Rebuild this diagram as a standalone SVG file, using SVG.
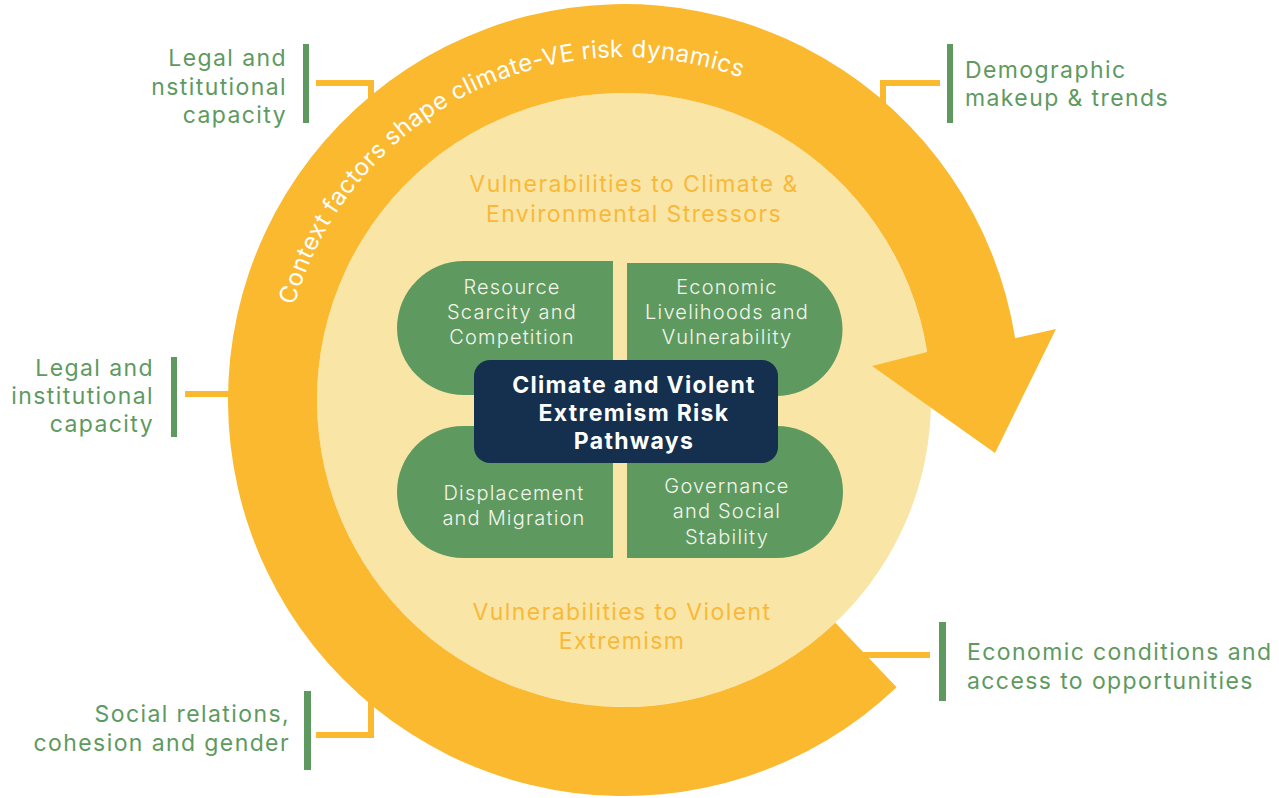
<svg xmlns="http://www.w3.org/2000/svg" width="1279" height="798" viewBox="0 0 1279 798">
<style>
  .lbl{font-family:Inter,"Open Sans","Liberation Sans",sans-serif;font-size:23px;letter-spacing:1.4px;fill:#5E9A60;}
  .bar{fill:#5E9A60;}
  .conn{fill:none;stroke:#FBB92F;stroke-width:6;}
  .head{font-family:Inter,"Open Sans","Liberation Sans",sans-serif;font-size:23px;letter-spacing:1.4px;fill:#F9B838;text-anchor:middle;}
  .pill{fill:#5E9A60;}
  .pt{font-family:Inter,"Open Sans","Liberation Sans",sans-serif;font-size:20px;font-weight:300;letter-spacing:1.2px;fill:#F4F4EC;text-anchor:middle;}
  .core{font-family:Inter,"Open Sans","Liberation Sans",sans-serif;font-size:23px;font-weight:700;letter-spacing:1.3px;fill:#FFFFFF;text-anchor:middle;}
  .ringtxt{font-family:Inter,"Open Sans","Liberation Sans",sans-serif;font-size:24px;fill:#FFFFFF;}
</style>
<defs>
  <path id="ringPath" d="M 294.3 305.5 A 343 343 0 0 1 746.9 79.8"/>
</defs>
<rect width="1279" height="798" fill="#FFFFFF"/>

<g id="connectors">
  <polyline class="conn" points="316,83 371,83 371,104"/>
  <polyline class="conn" points="940,83 883,83 883,108"/>
  <polyline class="conn" points="185,394 236,394"/>
  <polyline class="conn" points="316,735 371,735 371,700"/>
  <polyline class="conn" points="930,655 850,655"/>
</g>

<g id="inner-circle">
  <circle cx="624" cy="400" r="307" fill="#F9E6A7"/>
</g>

<g id="cycle-ring">
  <path fill="#FBB92F" d="M 835.3 622.7 L 896.6 687.3 A 396 396 0 1 1 1015.1 338.1 L 1056 329 L 995 453 L 872 366 L 927.2 352.0 A 307 307 0 1 0 835.3 622.7 Z"/>
  <text class="ringtxt"><textPath href="#ringPath" startOffset="0" textLength="93" lengthAdjust="spacing">Context</textPath></text>
  <text class="ringtxt"><textPath href="#ringPath" startOffset="100" textLength="82" lengthAdjust="spacing">factors</textPath></text>
  <text class="ringtxt"><textPath href="#ringPath" startOffset="189" textLength="71" lengthAdjust="spacing">shape</textPath></text>
  <text class="ringtxt"><textPath href="#ringPath" startOffset="267" textLength="127" lengthAdjust="spacing">climate-VE</textPath></text>
  <text class="ringtxt"><textPath href="#ringPath" startOffset="401" textLength="41" lengthAdjust="spacing">risk</textPath></text>
  <text class="ringtxt"><textPath href="#ringPath" startOffset="450" textLength="112" lengthAdjust="spacing">dynamics</textPath></text>
</g>

<g id="label-legal-top">
  <rect class="bar" x="303" y="44" width="6" height="79"/>
  <text class="lbl" text-anchor="end"><tspan x="287" y="66">Legal and</tspan><tspan x="287" y="95">nstitutional</tspan><tspan x="287" y="123">capacity</tspan></text>
</g>

<g id="label-demographic">
  <rect class="bar" x="947" y="44" width="6" height="79"/>
  <text class="lbl"><tspan x="965" y="78">Demographic</tspan><tspan x="965" y="106">makeup &amp; trends</tspan></text>
</g>

<g id="label-legal-left">
  <rect class="bar" x="171" y="357" width="6" height="80"/>
  <text class="lbl" text-anchor="end"><tspan x="154" y="376">Legal and</tspan><tspan x="154" y="404">institutional</tspan><tspan x="154" y="432">capacity</tspan></text>
</g>

<g id="label-social">
  <rect class="bar" x="304" y="691" width="7" height="79"/>
  <text class="lbl" text-anchor="end"><tspan x="290" y="722">Social relations,</tspan><tspan x="290" y="751">cohesion and gender</tspan></text>
</g>

<g id="label-economic">
  <rect class="bar" x="939" y="622" width="7" height="79"/>
  <text class="lbl"><tspan x="967" y="660">Economic conditions and</tspan><tspan x="967" y="689">access to opportunities</tspan></text>
</g>

<g id="heading-climate">
  <text class="head"><tspan x="634" y="192">Vulnerabilities to Climate &amp;</tspan><tspan x="634" y="222">Environmental Stressors</tspan></text>
</g>

<g id="heading-ve">
  <text class="head"><tspan x="622" y="620">Vulnerabilities to Violent</tspan><tspan x="622" y="649">Extremism</tspan></text>
</g>

<g id="node-resource">
  <path class="pill" d="M 613 261 L 464 261 A 67 67 0 0 0 464 395 L 613 395 Z"/>
  <text class="pt"><tspan x="512" y="294">Resource</tspan><tspan x="512" y="319">Scarcity and</tspan><tspan x="512" y="344">Competition</tspan></text>
</g>

<g id="node-economic">
  <path class="pill" d="M 627 263 L 776 263 A 66.5 66.5 0 0 1 776 396 L 627 396 Z"/>
  <text class="pt"><tspan x="727" y="294">Economic</tspan><tspan x="727" y="319">Livelihoods and</tspan><tspan x="727" y="344">Vulnerability</tspan></text>
</g>

<g id="node-displacement">
  <path class="pill" d="M 613 426 L 463 426 A 66 66 0 0 0 463 558 L 613 558 Z"/>
  <text class="pt"><tspan x="514" y="500">Displacement</tspan><tspan x="514" y="525">and Migration</tspan></text>
</g>

<g id="node-governance">
  <path class="pill" d="M 627 426 L 777 426 A 66 66 0 0 1 777 558 L 627 558 Z"/>
  <text class="pt"><tspan x="727" y="493">Governance</tspan><tspan x="727" y="518">and Social</tspan><tspan x="727" y="544">Stability</tspan></text>
</g>

<g id="node-core">
  <rect x="474" y="360" width="304" height="103" rx="16" fill="#14304E"/>
  <text class="core"><tspan x="634" y="393">Climate and Violent</tspan><tspan x="634" y="421">Extremism Risk</tspan><tspan x="634" y="449">Pathways</tspan></text>
</g>
</svg>
